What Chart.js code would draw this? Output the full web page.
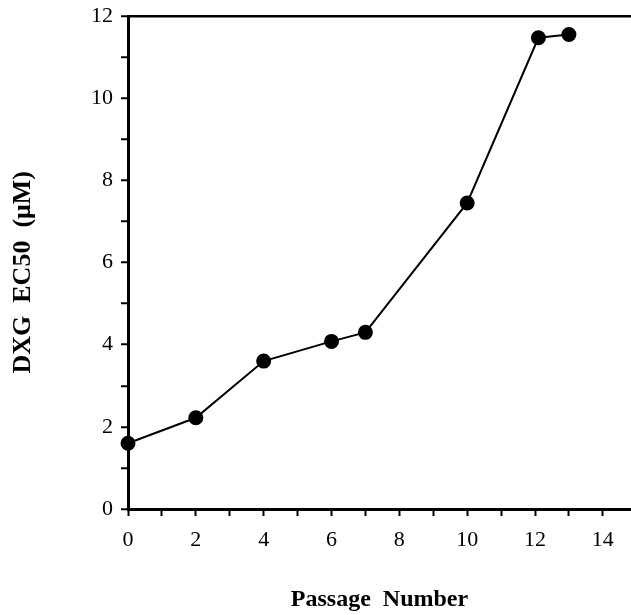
<!DOCTYPE html>
<html>
<head>
<meta charset="utf-8">
<script src="https://cdn.jsdelivr.net/npm/chart.js@4"></script>
<style>
  html, body { margin: 0; padding: 0; background: #fff; }
  #wrap { width: 631px; height: 615px; }
</style>
</head>
<body>
<div id="wrap"><canvas id="ec50Chart"></canvas></div>
<script>
// Values
const passage = [0, 2, 4, 6, 7, 10, 12.1, 13];
const ec50 = [1.6, 2.22, 3.6, 4.08, 4.3, 7.45, 11.47, 11.55];
const xTickLabels = [0, 2, 4, 6, 8, 10, 12, 14];
const yTickLabels = [0, 2, 4, 6, 8, 10, 12];

document.addEventListener('DOMContentLoaded', function () {
    const ctx = document.getElementById('ec50Chart');
    const serif = "'Liberation Serif', 'DejaVu Serif', serif";

    // one tick per unit, labels only on the even ones
    function unitTicks(to) {
        const out = [];
        for (let v = 0; v <= to; v++) out.push({ value: v });
        return out;
    }

    new Chart(ctx, {
        type: 'line',
        data: {
            datasets: [{
                data: passage.map(function (p, i) { return { x: p, y: ec50[i] }; }),
                borderColor: '#000',
                backgroundColor: '#000',
                borderWidth: 2,
                pointRadius: 6.5,
                pointHoverRadius: 6.5,
                tension: 0,
                clip: false
            }]
        },
        options: {
            responsive: true,
            maintainAspectRatio: false,
            animation: false,
            layout: { autoPadding: false, padding: { top: 16, right: 0, left: 0, bottom: 0 } },
            plugins: {
                legend: { display: false },
                tooltip: { enabled: false }
            },
            scales: {
                x: {
                    type: 'linear',
                    min: 0,
                    max: 14.83,
                    afterBuildTicks: function (scale) { scale.ticks = unitTicks(14); },
                    afterFit: function (scale) { scale.height = 106; },
                    border: { color: '#000', width: 3 },
                    grid: {
                        drawOnChartArea: false,
                        tickLength: 7,
                        tickWidth: 2,
                        tickColor: '#000'
                    },
                    ticks: {
                        autoSkip: false,
                        maxRotation: 0,
                        padding: 11,
                        color: '#000',
                        font: { family: serif, size: 22 },
                        callback: function (value) {
                            return xTickLabels.indexOf(value) >= 0 ? String(value) : '';
                        }
                    },
                    title: {
                        display: true,
                        text: 'Passage  Number',
                        color: '#000',
                        font: { family: serif, size: 24, weight: 'bold' },
                        padding: { top: 0, bottom: 1 }
                    }
                },
                y: {
                    type: 'linear',
                    min: 0,
                    max: 12,
                    afterBuildTicks: function (scale) { scale.ticks = unitTicks(12); },
                    afterFit: function (scale) {
                        scale.width = 128;
                        scale.paddingTop = 0;
                        scale.paddingBottom = 0;
                    },
                    border: { color: '#000', width: 3 },
                    grid: {
                        drawOnChartArea: true,
                        tickLength: 7,
                        tickWidth: 2,
                        lineWidth: 2.5,
                        tickColor: '#000',
                        color: function (c) {
                            return c.tick && c.tick.value === 12 ? '#000' : 'rgba(0,0,0,0)';
                        }
                    },
                    ticks: {
                        autoSkip: false,
                        padding: 8,
                        color: '#000',
                        font: { family: serif, size: 22 },
                        callback: function (value) {
                            return yTickLabels.indexOf(value) >= 0 ? String(value) : '';
                        }
                    },
                    title: {
                        display: true,
                        text: 'DXG  EC50  (\u03bcM)   ',
                        color: '#000',
                        font: { family: serif, size: 26, weight: 'bold' },
                        padding: { top: 8, bottom: 0 }
                    }
                }
            }
        }
    });
});
</script>
</body>
</html>
